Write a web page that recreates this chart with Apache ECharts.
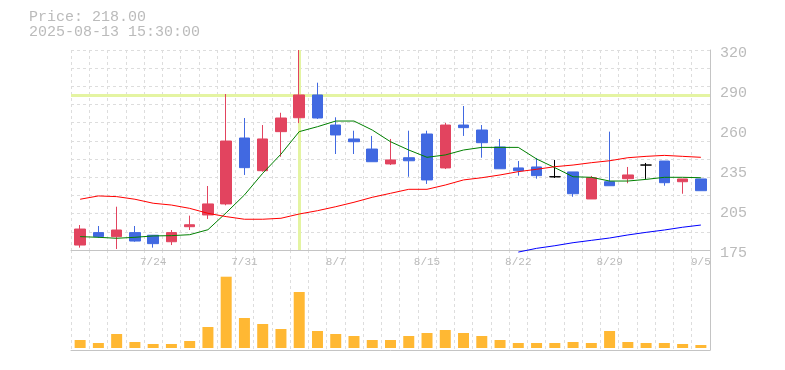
<!DOCTYPE html>
<html><head><meta charset="utf-8">
<script src="https://cdn.jsdelivr.net/npm/echarts@6/dist/echarts.min.js"></script>
<style>html,body{margin:0;padding:0;background:#fff}#c{width:785px;height:370px}</style>
</head><body><div id="c"></div>
<script>
const categories = ['7/17','7/18','7/22','7/23','7/24','7/25','7/28','7/29','7/30','7/31','8/1','8/4','8/5','8/6','8/7','8/8','8/12','8/13','8/14','8/15','8/18','8/19','8/20','8/21','8/22','8/25','8/26','8/27','8/28','8/29','9/1','9/2','9/3','9/4','9/5'];
// [open, close, low, high]
const ohlc = [
  [178.6,190.2,176.7,193.1],[187.6,184.7,183.7,192.4],[184.7,189.5,175.7,206.4],[187.6,181.5,181.0,192.4],
  [185.7,179.6,176.7,185.7],[181.0,187.6,178.6,189.5],[191.9,193.3,189.5,199.9],[200.4,208.4,197.5,221.4],
  [208.4,254.0,207.4,288.1],[256.2,234.7,229.4,270.7],[232.5,255.5,231.8,265.6],[260.8,270.7,242.6,274.5],
  [270.9,287.4,267.0,320.0],[287.4,270.7,270.0,296.3],[265.6,258.4,244.6,271.2],[255.5,253.5,244.6,261.5],
  [248.2,239.0,239.0,257.7],[237.4,240.3,236.6,255.5],[241.9,239.7,228.1,261.5],[259.1,225.8,222.9,261.5],
  [234.5,265.6,233.7,267.1],[265.6,263.7,257.7,279.4],[262.0,252.8,241.9,265.6],[249.7,233.9,233.9,255.5],
  [234.5,232.5,228.9,239.5],[235.2,228.9,226.7,241.7],[228.1,228.1,227.2,240.3],[231.6,215.8,213.6,231.6],
  [212.0,227.4,212.0,228.7],[224.5,221.6,221.6,260.8],[226.7,229.4,223.4,235.2],[236.6,236.6,226.5,238.1],
  [239.5,223.8,221.6,239.5],[224.5,226.5,215.8,226.5],[226.5,218.0,218.0,226.5]
];
const volume = [8,5,14,6,4,4,7,21,71.3,30,24,19,56,17,14,12,8,8,12,15,18,15,12,8,5,5,5,6,5,17,6,5,5,4,3];
const ma5 = [184.7,184.2,183.5,184.2,185.2,185.4,186.1,189.7,202,214.9,230.6,244.5,260.8,264.4,268.5,268.5,262,253.5,247.5,242.2,243.9,247.5,249.4,249.4,249.4,241,234.7,228.1,227.7,225,225,226.2,227.7,227.7,227.4];
const ma25 = [211.8,214.2,213.7,211.8,208.9,207.6,205.2,201.6,199.2,197.3,197.3,198,201.1,203.5,206.4,209.6,213.2,216.1,219,219,222.1,225.8,227.4,229.4,231.8,233.5,235.4,236.6,238.3,239.7,241.9,242.9,243.6,242.9,242.2];
const ma75 = [null,null,null,null,null,null,null,null,null,null,null,null,null,null,null,null,null,null,null,null,null,null,null,null,173.5,176.2,178.1,180.3,182,183.7,185.9,187.8,189.5,191.5,193.1];
const priceMin = 175, priceMax = 320, priceStep = 29;
const gridRows = 11;
const crossIndex = 12;
const crossPrice = 287.4;
const titleLines = ['Price: 218.00', '2025-08-13 15:30:00'];

const FONT = 'Liberation Mono';
const UP = '#e2445f', DOWN = '#4169e1';
const GRID = '#dddddd', AXIS = '#c4c4c4', TXT = '#bbbbbb';
const dash = { color: GRID, type: [3, 3], width: 1 };

const candleData = ohlc.map(d => d[0] === d[1]
  ? { value: d, itemStyle: { color: '#000', color0: '#000', borderColor: '#000', borderColor0: '#000' } }
  : d);

const chart = echarts.init(document.getElementById('c'), null, { renderer: 'canvas' });
chart.setOption({
  animation: false,
  backgroundColor: '#fff',
  title: {
    text: titleLines.join('\n'), left: 29, top: 10, padding: 0,
    textStyle: { fontFamily: FONT, fontSize: 15, lineHeight: 15, color: TXT, fontWeight: 'normal' }
  },
  grid: [
    { left: 71, right: 75, top: 50, height: 200 },
    { left: 71, right: 75, top: 250, height: 100 }
  ],
  xAxis: [
    {
      type: 'category', data: categories, gridIndex: 0, boundaryGap: true,
      axisLine: { show: true, onZero: false, lineStyle: { color: AXIS } },
      axisTick: { show: false },
      axisLabel: { interval: (i) => i % 5 === 4, color: TXT, fontFamily: FONT, fontSize: 11, margin: 7 },
      splitLine: { show: true, interval: 0, lineStyle: dash }
    },
    {
      type: 'category', data: categories, gridIndex: 1, boundaryGap: true,
      axisLine: { show: true, onZero: false, lineStyle: { color: AXIS } },
      axisTick: { show: false }, axisLabel: { show: false },
      splitLine: { show: true, interval: 0, lineStyle: dash }
    }
  ],
  yAxis: [
    {
      type: 'value', gridIndex: 0, position: 'right', min: priceMin, max: priceMax, interval: priceStep,
      axisLine: { show: true, lineStyle: { color: AXIS } }, axisTick: { show: false },
      axisLabel: { color: TXT, fontFamily: FONT, fontSize: 15, margin: 10, verticalAlign: 'top', lineHeight: 6,
        formatter: v => String(Math.round(v / 5) * 5) },
      splitLine: { show: false }
    },
    {
      type: 'value', gridIndex: 0, position: 'left', min: 0, max: gridRows, interval: 1,
      axisLine: { show: false }, axisTick: { show: false }, axisLabel: { show: false },
      splitLine: { show: true, lineStyle: dash }
    },
    {
      type: 'value', gridIndex: 1, position: 'right', min: -2, max: 98,
      axisLine: { show: true, lineStyle: { color: AXIS } }, axisTick: { show: false },
      axisLabel: { show: false }, splitLine: { show: false }
    }
  ],
  series: [
    {
      type: 'candlestick', xAxisIndex: 0, yAxisIndex: 0, data: candleData, barWidth: 11,
      itemStyle: { color: UP, color0: DOWN, borderColor: UP, borderColor0: DOWN, borderWidth: 1 },
      markLine: {
        z: 1, silent: true, symbol: 'none', label: { show: false },
        lineStyle: { color: '#e4f4a2', width: 3, type: 'solid' },
        data: [{ yAxis: crossPrice }, { xAxis: categories[crossIndex] }]
      }
    },
    { type: 'line', xAxisIndex: 0, yAxisIndex: 0, data: ma5, showSymbol: false, symbol: 'none', z: 3,
      lineStyle: { color: '#008000', width: 1 } },
    { type: 'line', xAxisIndex: 0, yAxisIndex: 0, data: ma25, showSymbol: false, symbol: 'none', z: 3,
      lineStyle: { color: '#ff0000', width: 1 } },
    { type: 'line', xAxisIndex: 0, yAxisIndex: 0, data: ma75, showSymbol: false, symbol: 'none', z: 3, clip: false,
      lineStyle: { color: '#0000ff', width: 1 } },
    { type: 'bar', xAxisIndex: 1, yAxisIndex: 2, data: volume, barWidth: 11,
      itemStyle: { color: '#ffb833' } }
  ]
});
</script>
</body></html>
